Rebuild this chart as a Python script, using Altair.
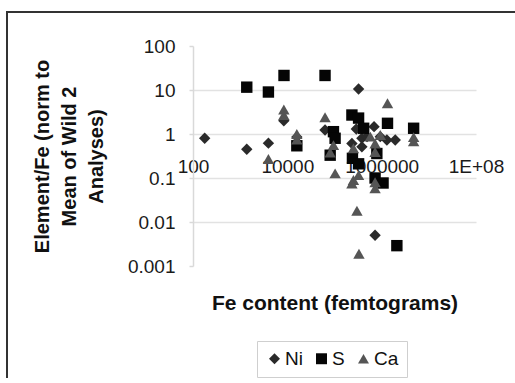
import altair as alt
import pandas as pd

# Fe content (femtograms) and Element/Fe ratio for each element series
ni_fe = [177, 1380, 3970, 8430, 15900, 63000, 324000, 234000, 381000, 381000,
         690000, 1290000, 1940000, 725000, 490000, 935000, 290000]
ni_ratio = [0.8, 0.45, 0.62, 2.0, 0.85, 1.23, 10.5, 0.61, 0.8, 0.51,
            1.47, 0.73, 0.73, 0.005, 0.87, 0.87, 1.3]

s_fe = [1380, 3970, 8500, 63000, 15900, 95000, 103000, 81000, 234000, 324000,
        415000, 1330000, 4760000, 240000, 324000, 725000, 1070000, 2100000, 790000]
s_ratio = [11.6, 9.0, 21.4, 21.4, 0.54, 1.13, 0.8, 0.33, 2.7, 2.3,
           1.35, 1.75, 1.35, 0.28, 0.21, 0.1, 0.077, 0.0029, 0.36]

ca_fe = [8430, 8430, 3970, 15900, 15900, 63000, 95000, 81000, 103000, 1330000,
         575000, 725000, 935000, 725000, 252000, 252000, 234000, 324000, 299000,
         725000, 330000, 4760000, 4760000, 725000]
ca_ratio = [3.6, 2.7, 0.27, 1.0, 0.75, 2.4, 0.56, 0.38, 0.127, 5.0,
            0.87, 0.61, 0.95, 0.39, 0.47, 0.09, 0.075, 0.116, 0.018,
            0.058, 0.0019, 0.85, 0.68, 0.08]

elements = ["Ni", "S", "Ca"]
shapes = ["diamond", "square", "triangle-up"]
colors = ["#2a2a2a", "#050505", "#555555"]

rows = []
for name, fe, ratio in [("Ni", ni_fe, ni_ratio), ("S", s_fe, s_ratio), ("Ca", ca_fe, ca_ratio)]:
    for f, r in zip(fe, ratio):
        rows.append({"fe": f, "ratio": r, "element": name})
df = pd.DataFrame(rows)

FONT = "Liberation Sans"

legend = alt.Legend(
    title=None, orient="none", direction="horizontal", legendX=64, legendY=295,
    strokeColor="#cfcfcf", fillColor="white", padding=8, labelFontSize=19,
    labelFont=FONT, labelColor="#111", labelOffset=1, columnPadding=9,
    symbolSize=120, symbolStrokeWidth=0,
)

points = alt.Chart(df).mark_point(filled=True, opacity=1, size=130, strokeWidth=0).encode(
    x=alt.X(
        "fe:Q",
        scale=alt.Scale(type="log", domain=[100, 1e8], nice=False),
        axis=alt.Axis(
            values=[100, 10000, 1000000, 100000000],
            labelExpr="datum.value >= 1e8 ? '1E+08' : toString(datum.value)",
            offset=-132, domain=False, ticks=False, tickSize=0, grid=False,
            labelFlush=False, labelOverlap=False, labelPadding=38,
            labelBaseline="alphabetic", labelFontSize=19, labelFont=FONT,
            labelColor="#1a1a1a",
            title="Fe content (femtograms)", titleFontSize=21, titleFont=FONT,
            titleFontWeight="bold", titleColor="#111",
            titleY=175, titleBaseline="alphabetic",
        ),
    ),
    y=alt.Y(
        "ratio:Q",
        scale=alt.Scale(type="log", domain=[0.001, 100], nice=False),
        axis=alt.Axis(
            values=[0.001, 0.01, 0.1, 1, 10, 100],
            labelExpr="toString(datum.value)",
            domain=True, domainColor="#d9d9d9", domainWidth=1.5,
            ticks=True, tickSize=4, tickColor="#d9d9d9", tickWidth=1.5,
            grid=True, gridColor="#e2e2e2", gridWidth=1.5,
            gridOpacity={"condition": {"test": "datum.value > 50 || datum.value < 0.005", "value": 0}, "value": 1},
            labelFlush=False, labelOverlap=False, labelPadding=14,
            labelFontSize=19, labelFont=FONT, labelColor="#1a1a1a",
            title=["Element/Fe (norm to", "Mean of Wild 2", "Analyses)"],
            titleFontSize=20, titleFont=FONT, titleFontWeight="bold", titleColor="#111",
            titleAngle=270, titleAlign="center", titleBaseline="middle",
            titleLineHeight=27, titleX=-151, titleY=110,
        ),
    ),
    shape=alt.Shape("element:N", scale=alt.Scale(domain=elements, range=shapes), legend=legend),
    color=alt.Color("element:N", scale=alt.Scale(domain=elements, range=colors), legend=legend),
)

# outer chart frame: left and top edges only, the rest runs off the canvas
frame_left = alt.Chart(pd.DataFrame({"k": [0]})).mark_rule(
    color="#333333", strokeWidth=2
).encode(x=alt.value(-186), y=alt.value(-35), y2=alt.value(340))
frame_top = alt.Chart(pd.DataFrame({"k": [0]})).mark_rule(
    color="#333333", strokeWidth=2
).encode(x=alt.value(-187), x2=alt.value(330), y=alt.value(-34))

chart = alt.layer(frame_left, frame_top, points).properties(
    width=283, height=220,
    autosize=alt.AutoSizeParams(type="none"),
    padding={"left": 193, "top": 46, "right": 39, "bottom": 112},
    background="white",
).configure_view(stroke=None)

chart.save("out.html", embed_options={"renderer": "svg", "actions": False})
